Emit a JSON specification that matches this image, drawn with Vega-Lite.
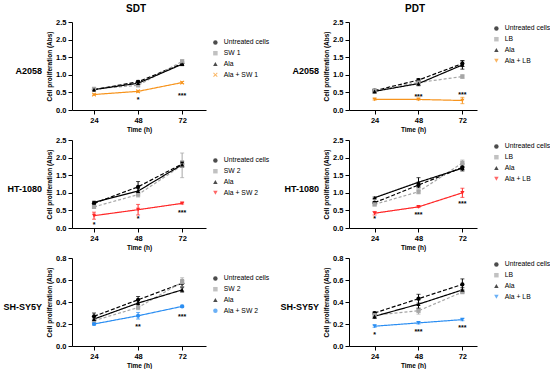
{
"$schema":"https://vega.github.io/schema/vega-lite/v6.json",
"padding":{"left":2,"top":4,"right":0,"bottom":0},
"datasets":{
"d":[
{"p":"a1","s":"Untreated cells","t":24,"m":0.58,"e":0.02},{"p":"a1","s":"Untreated cells","t":48,"m":0.80,"e":0.04},{"p":"a1","s":"Untreated cells","t":72,"m":1.32,"e":0.05},
{"p":"a1","s":"SW 1","t":24,"m":0.60,"e":0.02},{"p":"a1","s":"SW 1","t":48,"m":0.70,"e":0.03},{"p":"a1","s":"SW 1","t":72,"m":1.38,"e":0.05},
{"p":"a1","s":"Ala","t":24,"m":0.58,"e":0.02},{"p":"a1","s":"Ala","t":48,"m":0.76,"e":0.04},{"p":"a1","s":"Ala","t":72,"m":1.30,"e":0.04},
{"p":"a1","s":"Ala + SW 1","t":24,"m":0.44,"e":0.02},{"p":"a1","s":"Ala + SW 1","t":48,"m":0.53,"e":0.03},{"p":"a1","s":"Ala + SW 1","t":72,"m":0.78,"e":0.03},
{"p":"a2","s":"Untreated cells","t":24,"m":0.55,"e":0.04},{"p":"a2","s":"Untreated cells","t":48,"m":0.85,"e":0.04},{"p":"a2","s":"Untreated cells","t":72,"m":1.32,"e":0.08},
{"p":"a2","s":"LB","t":24,"m":0.55,"e":0.03},{"p":"a2","s":"LB","t":48,"m":0.78,"e":0.03},{"p":"a2","s":"LB","t":72,"m":0.95,"e":0.05},
{"p":"a2","s":"Ala","t":24,"m":0.53,"e":0.05},{"p":"a2","s":"Ala","t":48,"m":0.75,"e":0.06},{"p":"a2","s":"Ala","t":72,"m":1.28,"e":0.12},
{"p":"a2","s":"Ala + LB","t":24,"m":0.30,"e":0.02},{"p":"a2","s":"Ala + LB","t":48,"m":0.30,"e":0.02},{"p":"a2","s":"Ala + LB","t":72,"m":0.27,"e":0.09},
{"p":"h1","s":"Untreated cells","t":24,"m":0.70,"e":0.04},{"p":"h1","s":"Untreated cells","t":48,"m":1.17,"e":0.15},{"p":"h1","s":"Untreated cells","t":72,"m":1.82,"e":0.08},
{"p":"h1","s":"SW 2","t":24,"m":0.60,"e":0.03},{"p":"h1","s":"SW 2","t":48,"m":0.95,"e":0.07},{"p":"h1","s":"SW 2","t":72,"m":1.78,"e":0.35},
{"p":"h1","s":"Ala","t":24,"m":0.73,"e":0.03},{"p":"h1","s":"Ala","t":48,"m":1.05,"e":0.08},{"p":"h1","s":"Ala","t":72,"m":1.80,"e":0.07},
{"p":"h1","s":"Ala + SW 2","t":24,"m":0.35,"e":0.10},{"p":"h1","s":"Ala + SW 2","t":48,"m":0.52,"e":0.15},{"p":"h1","s":"Ala + SW 2","t":72,"m":0.70,"e":0.02},
{"p":"h2","s":"Untreated cells","t":24,"m":0.72,"e":0.03},{"p":"h2","s":"Untreated cells","t":48,"m":1.22,"e":0.08},{"p":"h2","s":"Untreated cells","t":72,"m":1.72,"e":0.10},
{"p":"h2","s":"LB","t":24,"m":0.67,"e":0.04},{"p":"h2","s":"LB","t":48,"m":1.03,"e":0.06},{"p":"h2","s":"LB","t":72,"m":1.85,"e":0.08},
{"p":"h2","s":"Ala","t":24,"m":0.86,"e":0.02},{"p":"h2","s":"Ala","t":48,"m":1.30,"e":0.13},{"p":"h2","s":"Ala","t":72,"m":1.70,"e":0.05},
{"p":"h2","s":"Ala + LB","t":24,"m":0.42,"e":0.05},{"p":"h2","s":"Ala + LB","t":48,"m":0.60,"e":0.02},{"p":"h2","s":"Ala + LB","t":72,"m":1.00,"e":0.13},
{"p":"s1","s":"Untreated cells","t":24,"m":0.27,"e":0.03},{"p":"s1","s":"Untreated cells","t":48,"m":0.42,"e":0.03},{"p":"s1","s":"Untreated cells","t":72,"m":0.57,"e":0.03},
{"p":"s1","s":"SW 2","t":24,"m":0.23,"e":0.02},{"p":"s1","s":"SW 2","t":48,"m":0.35,"e":0.02},{"p":"s1","s":"SW 2","t":72,"m":0.58,"e":0.04},
{"p":"s1","s":"Ala","t":24,"m":0.245,"e":0.02},{"p":"s1","s":"Ala","t":48,"m":0.39,"e":0.03},{"p":"s1","s":"Ala","t":72,"m":0.51,"e":0.02},
{"p":"s1","s":"Ala + SW 2","t":24,"m":0.20,"e":0.01},{"p":"s1","s":"Ala + SW 2","t":48,"m":0.275,"e":0.03},{"p":"s1","s":"Ala + SW 2","t":72,"m":0.36,"e":0.01},
{"p":"s2","s":"Untreated cells","t":24,"m":0.30,"e":0.01},{"p":"s2","s":"Untreated cells","t":48,"m":0.43,"e":0.04},{"p":"s2","s":"Untreated cells","t":72,"m":0.56,"e":0.05},
{"p":"s2","s":"LB","t":24,"m":0.28,"e":0.02},{"p":"s2","s":"LB","t":48,"m":0.32,"e":0.03},{"p":"s2","s":"LB","t":72,"m":0.49,"e":0.01},
{"p":"s2","s":"Ala","t":24,"m":0.27,"e":0.02},{"p":"s2","s":"Ala","t":48,"m":0.38,"e":0.04},{"p":"s2","s":"Ala","t":72,"m":0.51,"e":0.02},
{"p":"s2","s":"Ala + LB","t":24,"m":0.18,"e":0.01},{"p":"s2","s":"Ala + LB","t":48,"m":0.21,"e":0.01},{"p":"s2","s":"Ala + LB","t":72,"m":0.24,"e":0.01}
],
"st":[
{"p":"a1","t":48,"m":0.33,"l":"*"},{"p":"a1","t":72,"m":0.45,"l":"***"},
{"p":"a2","t":48,"m":0.42,"l":"***"},{"p":"a2","t":72,"m":0.48,"l":"***"},
{"p":"h1","t":24,"m":0.13,"l":"*"},{"p":"h1","t":48,"m":0.31,"l":"*"},{"p":"h1","t":72,"m":0.48,"l":"***"},
{"p":"h2","t":24,"m":0.30,"l":"*"},{"p":"h2","t":48,"m":0.44,"l":"***"},{"p":"h2","t":72,"m":0.75,"l":"***"},
{"p":"s1","t":48,"m":0.19,"l":"**"},{"p":"s1","t":72,"m":0.28,"l":"***"},
{"p":"s2","t":24,"m":0.12,"l":"*"},{"p":"s2","t":48,"m":0.15,"l":"***"},{"p":"s2","t":72,"m":0.18,"l":"***"}
]
},
"config":{
"font":"Liberation Sans",
"view":{"stroke":null},
"axis":{"grid":false,"domainColor":"#000","tickColor":"#000","labelColor":"#000","titleColor":"#000","labelFontSize":7.5,"labelFontWeight":"bold","titleFontSize":6.5,"titleFontWeight":"bold","tickSize":4,"labelPadding":2,"titlePadding":3,"domainWidth":1,"tickWidth":1},
"legend":{"labelFontSize":6.8,"labelColor":"#000","rowPadding":2.8,"symbolSize":20,"labelOffset":5,"padding":0,"symbolStrokeWidth":0},
"errorbar":{"ticks":{"size":4}}
},
"resolve":{"scale":{"color":"independent","shape":"independent","strokeDash":"independent","x":"independent","y":"independent"}},
"spacing":9,
"hconcat":[
{"title":{"text":"SDT","fontSize":10,"fontWeight":"bold","anchor":"middle","offset":4,"color":"#000"},
 "spacing":4,
 "resolve":{"scale":{"color":"independent","shape":"independent","strokeDash":"independent","x":"independent","y":"independent"}},
 "hconcat":[
 {"spacing":20,
  "resolve":{"scale":{"x":"independent","y":"independent"}},
  "vconcat":[
  {"width":40,"height":98,"data":{"values":[{"r":"A2058"}]},"mark":{"type":"text","align":"right","baseline":"middle","fontSize":9,"fontWeight":"bold","color":"#000"},"encoding":{"text":{"field":"r"},"x":{"datum":1,"type":"quantitative","scale":{"domain":[0,1]},"axis":null}}},
  {"width":40,"height":98,"data":{"values":[{"r":"HT-1080"}]},"mark":{"type":"text","align":"right","baseline":"middle","fontSize":9,"fontWeight":"bold","color":"#000"},"encoding":{"text":{"field":"r"},"x":{"datum":1,"type":"quantitative","scale":{"domain":[0,1]},"axis":null}}},
  {"width":40,"height":98,"data":{"values":[{"r":"SH-SY5Y"}]},"mark":{"type":"text","align":"right","baseline":"middle","fontSize":9,"fontWeight":"bold","color":"#000"},"encoding":{"text":{"field":"r"},"x":{"datum":1,"type":"quantitative","scale":{"domain":[0,1]},"axis":null}}}
  ]
 },
 {"spacing":3,
  "resolve":{"scale":{"color":"independent","shape":"independent","strokeDash":"independent","x":"independent","y":"independent"}},
  "vconcat":[
  {"width":134,"height":88,
   "encoding":{
    "x":{"field":"t","type":"quantitative","scale":{"domain":[12,85],"nice":false,"zero":false},"axis":{"values":[24,48,72],"title":"Time (h)"}},
    "y":{"field":"m","type":"quantitative","scale":{"domain":[0,2.5],"nice":false},"axis":{"values":[0,0.5,1,1.5,2,2.5],"format":".1f","title":"Cell proliferation (Abs)"}},
    "color":{"field":"s","type":"nominal","scale":{"domain":["Untreated cells","SW 1","Ala","Ala + SW 1"],"range":["#000000","#a6a6a6","#000000","#f7941d"]},"legend":{"orient":"none","legendX":140,"legendY":17,"title":null}}
   },
   "layer":[
    {"data":{"name":"d"},"transform":[{"filter":"datum.p==='a1'"}],"mark":{"type":"errorbar","ticks":true},"encoding":{"yError":{"field":"e"}}},
    {"data":{"name":"d"},"transform":[{"filter":"datum.p==='a1'"}],"mark":{"type":"line","strokeWidth":1.2},"encoding":{"strokeDash":{"field":"s","type":"nominal","scale":{"domain":["Untreated cells","SW 1","Ala","Ala + SW 1"],"range":[[4,2],[3,2],[1,0],[1,0]]},"legend":null}}},
    {"data":{"name":"d"},"transform":[{"filter":"datum.p==='a1'"}],"mark":{"type":"point","filled":true,"size":18,"opacity":1},"encoding":{"shape":{"field":"s","type":"nominal","scale":{"domain":["Untreated cells","SW 1","Ala","Ala + SW 1"],"range":["circle","square","triangle-up","M-1,-0.7L-0.7,-1L0,-0.3L0.7,-1L1,-0.7L0.3,0L1,0.7L0.7,1L0,0.3L-0.7,1L-1,0.7L-0.3,0Z"]},"legend":null}}},
    {"data":{"name":"st"},"transform":[{"filter":"datum.p==='a1'"}],"mark":{"type":"text","fontSize":7,"fontWeight":"bold","baseline":"middle","dy":2},"encoding":{"text":{"field":"l"},"color":{"value":"#000"}}}
   ]
  },
  {"width":134,"height":88,
   "encoding":{
    "x":{"field":"t","type":"quantitative","scale":{"domain":[12,85],"nice":false,"zero":false},"axis":{"values":[24,48,72],"title":"Time (h)"}},
    "y":{"field":"m","type":"quantitative","scale":{"domain":[0,2.5],"nice":false},"axis":{"values":[0,0.5,1,1.5,2,2.5],"format":".1f","title":"Cell proliferation (Abs)"}},
    "color":{"field":"s","type":"nominal","scale":{"domain":["Untreated cells","SW 2","Ala","Ala + SW 2"],"range":["#000000","#a6a6a6","#000000","#ff2626"]},"legend":{"orient":"none","legendX":140,"legendY":17,"title":null}}
   },
   "layer":[
    {"data":{"name":"d"},"transform":[{"filter":"datum.p==='h1'"}],"mark":{"type":"errorbar","ticks":true},"encoding":{"yError":{"field":"e"}}},
    {"data":{"name":"d"},"transform":[{"filter":"datum.p==='h1'"}],"mark":{"type":"line","strokeWidth":1.2},"encoding":{"strokeDash":{"field":"s","type":"nominal","scale":{"domain":["Untreated cells","SW 2","Ala","Ala + SW 2"],"range":[[4,2],[3,2],[1,0],[1,0]]},"legend":null}}},
    {"data":{"name":"d"},"transform":[{"filter":"datum.p==='h1'"}],"mark":{"type":"point","filled":true,"size":18,"opacity":1},"encoding":{"shape":{"field":"s","type":"nominal","scale":{"domain":["Untreated cells","SW 2","Ala","Ala + SW 2"],"range":["circle","square","triangle-up","triangle-down"]},"legend":null}}},
    {"data":{"name":"st"},"transform":[{"filter":"datum.p==='h1'"}],"mark":{"type":"text","fontSize":7,"fontWeight":"bold","baseline":"middle","dy":2},"encoding":{"text":{"field":"l"},"color":{"value":"#000"}}}
   ]
  },
  {"width":134,"height":88,
   "encoding":{
    "x":{"field":"t","type":"quantitative","scale":{"domain":[12,85],"nice":false,"zero":false},"axis":{"values":[24,48,72],"title":"Time (h)"}},
    "y":{"field":"m","type":"quantitative","scale":{"domain":[0,0.8],"nice":false},"axis":{"values":[0,0.2,0.4,0.6,0.8],"format":".1f","title":"Cell proliferation (Abs)"}},
    "color":{"field":"s","type":"nominal","scale":{"domain":["Untreated cells","SW 2","Ala","Ala + SW 2"],"range":["#000000","#a6a6a6","#000000","#2b8ef2"]},"legend":{"orient":"none","legendX":140,"legendY":17,"title":null}}
   },
   "layer":[
    {"data":{"name":"d"},"transform":[{"filter":"datum.p==='s1'"}],"mark":{"type":"errorbar","ticks":true},"encoding":{"yError":{"field":"e"}}},
    {"data":{"name":"d"},"transform":[{"filter":"datum.p==='s1'"}],"mark":{"type":"line","strokeWidth":1.2},"encoding":{"strokeDash":{"field":"s","type":"nominal","scale":{"domain":["Untreated cells","SW 2","Ala","Ala + SW 2"],"range":[[4,2],[3,2],[1,0],[1,0]]},"legend":null}}},
    {"data":{"name":"d"},"transform":[{"filter":"datum.p==='s1'"}],"mark":{"type":"point","filled":true,"size":18,"opacity":1},"encoding":{"shape":{"field":"s","type":"nominal","scale":{"domain":["Untreated cells","SW 2","Ala","Ala + SW 2"],"range":["circle","square","triangle-up","circle"]},"legend":null}}},
    {"data":{"name":"st"},"transform":[{"filter":"datum.p==='s1'"}],"mark":{"type":"text","fontSize":7,"fontWeight":"bold","baseline":"middle","dy":2},"encoding":{"text":{"field":"l"},"color":{"value":"#000"}}}
   ]
  }
  ]
 }
 ]
},
{"title":{"text":"PDT","fontSize":10,"fontWeight":"bold","anchor":"middle","offset":4,"color":"#000"},
 "spacing":4,
 "resolve":{"scale":{"color":"independent","shape":"independent","strokeDash":"independent","x":"independent","y":"independent"}},
 "hconcat":[
 {"spacing":20,
  "resolve":{"scale":{"x":"independent","y":"independent"}},
  "vconcat":[
  {"width":40,"height":98,"data":{"values":[{"r":"A2058"}]},"mark":{"type":"text","align":"right","baseline":"middle","fontSize":9,"fontWeight":"bold","color":"#000"},"encoding":{"text":{"field":"r"},"x":{"datum":1,"type":"quantitative","scale":{"domain":[0,1]},"axis":null}}},
  {"width":40,"height":98,"data":{"values":[{"r":"HT-1080"}]},"mark":{"type":"text","align":"right","baseline":"middle","fontSize":9,"fontWeight":"bold","color":"#000"},"encoding":{"text":{"field":"r"},"x":{"datum":1,"type":"quantitative","scale":{"domain":[0,1]},"axis":null}}},
  {"width":40,"height":98,"data":{"values":[{"r":"SH-SY5Y"}]},"mark":{"type":"text","align":"right","baseline":"middle","fontSize":9,"fontWeight":"bold","color":"#000"},"encoding":{"text":{"field":"r"},"x":{"datum":1,"type":"quantitative","scale":{"domain":[0,1]},"axis":null}}}
  ]
 },
 {"spacing":3,
  "resolve":{"scale":{"color":"independent","shape":"independent","strokeDash":"independent","x":"independent","y":"independent"}},
  "vconcat":[
  {"width":128,"height":88,
   "encoding":{
    "x":{"field":"t","type":"quantitative","scale":{"domain":[10,80],"nice":false,"zero":false},"axis":{"values":[24,48,72],"title":"Time (h)"}},
    "y":{"field":"m","type":"quantitative","scale":{"domain":[0,2.5],"nice":false},"axis":{"values":[0,0.5,1,1.5,2,2.5],"format":".1f","title":"Cell proliferation (Abs)"}},
    "color":{"field":"s","type":"nominal","scale":{"domain":["Untreated cells","LB","Ala","Ala + LB"],"range":["#000000","#a6a6a6","#000000","#f7941d"]},"legend":{"orient":"none","legendX":144,"legendY":3,"title":null}}
   },
   "layer":[
    {"data":{"name":"d"},"transform":[{"filter":"datum.p==='a2'"}],"mark":{"type":"errorbar","ticks":true},"encoding":{"yError":{"field":"e"}}},
    {"data":{"name":"d"},"transform":[{"filter":"datum.p==='a2'"}],"mark":{"type":"line","strokeWidth":1.2},"encoding":{"strokeDash":{"field":"s","type":"nominal","scale":{"domain":["Untreated cells","LB","Ala","Ala + LB"],"range":[[4,2],[3,2],[1,0],[1,0]]},"legend":null}}},
    {"data":{"name":"d"},"transform":[{"filter":"datum.p==='a2'"}],"mark":{"type":"point","filled":true,"size":18,"opacity":1},"encoding":{"shape":{"field":"s","type":"nominal","scale":{"domain":["Untreated cells","LB","Ala","Ala + LB"],"range":["circle","square","triangle-up","triangle-down"]},"legend":null}}},
    {"data":{"name":"st"},"transform":[{"filter":"datum.p==='a2'"}],"mark":{"type":"text","fontSize":7,"fontWeight":"bold","baseline":"middle","dy":2},"encoding":{"text":{"field":"l"},"color":{"value":"#000"}}}
   ]
  },
  {"width":128,"height":88,
   "encoding":{
    "x":{"field":"t","type":"quantitative","scale":{"domain":[10,80],"nice":false,"zero":false},"axis":{"values":[24,48,72],"title":"Time (h)"}},
    "y":{"field":"m","type":"quantitative","scale":{"domain":[0,2.5],"nice":false},"axis":{"values":[0,0.5,1,1.5,2,2.5],"format":".1f","title":"Cell proliferation (Abs)"}},
    "color":{"field":"s","type":"nominal","scale":{"domain":["Untreated cells","LB","Ala","Ala + LB"],"range":["#000000","#a6a6a6","#000000","#ff2626"]},"legend":{"orient":"none","legendX":144,"legendY":3,"title":null}}
   },
   "layer":[
    {"data":{"name":"d"},"transform":[{"filter":"datum.p==='h2'"}],"mark":{"type":"errorbar","ticks":true},"encoding":{"yError":{"field":"e"}}},
    {"data":{"name":"d"},"transform":[{"filter":"datum.p==='h2'"}],"mark":{"type":"line","strokeWidth":1.2},"encoding":{"strokeDash":{"field":"s","type":"nominal","scale":{"domain":["Untreated cells","LB","Ala","Ala + LB"],"range":[[4,2],[3,2],[1,0],[1,0]]},"legend":null}}},
    {"data":{"name":"d"},"transform":[{"filter":"datum.p==='h2'"}],"mark":{"type":"point","filled":true,"size":18,"opacity":1},"encoding":{"shape":{"field":"s","type":"nominal","scale":{"domain":["Untreated cells","LB","Ala","Ala + LB"],"range":["circle","square","triangle-up","triangle-down"]},"legend":null}}},
    {"data":{"name":"st"},"transform":[{"filter":"datum.p==='h2'"}],"mark":{"type":"text","fontSize":7,"fontWeight":"bold","baseline":"middle","dy":2},"encoding":{"text":{"field":"l"},"color":{"value":"#000"}}}
   ]
  },
  {"width":128,"height":88,
   "encoding":{
    "x":{"field":"t","type":"quantitative","scale":{"domain":[10,80],"nice":false,"zero":false},"axis":{"values":[24,48,72],"title":"Time (h)"}},
    "y":{"field":"m","type":"quantitative","scale":{"domain":[0,0.8],"nice":false},"axis":{"values":[0,0.2,0.4,0.6,0.8],"format":".1f","title":"Cell proliferation (Abs)"}},
    "color":{"field":"s","type":"nominal","scale":{"domain":["Untreated cells","LB","Ala","Ala + LB"],"range":["#000000","#a6a6a6","#000000","#2b8ef2"]},"legend":{"orient":"none","legendX":144,"legendY":3,"title":null}}
   },
   "layer":[
    {"data":{"name":"d"},"transform":[{"filter":"datum.p==='s2'"}],"mark":{"type":"errorbar","ticks":true},"encoding":{"yError":{"field":"e"}}},
    {"data":{"name":"d"},"transform":[{"filter":"datum.p==='s2'"}],"mark":{"type":"line","strokeWidth":1.2},"encoding":{"strokeDash":{"field":"s","type":"nominal","scale":{"domain":["Untreated cells","LB","Ala","Ala + LB"],"range":[[4,2],[3,2],[1,0],[1,0]]},"legend":null}}},
    {"data":{"name":"d"},"transform":[{"filter":"datum.p==='s2'"}],"mark":{"type":"point","filled":true,"size":18,"opacity":1},"encoding":{"shape":{"field":"s","type":"nominal","scale":{"domain":["Untreated cells","LB","Ala","Ala + LB"],"range":["circle","square","triangle-up","triangle-down"]},"legend":null}}},
    {"data":{"name":"st"},"transform":[{"filter":"datum.p==='s2'"}],"mark":{"type":"text","fontSize":7,"fontWeight":"bold","baseline":"middle","dy":2},"encoding":{"text":{"field":"l"},"color":{"value":"#000"}}}
   ]
  }
  ]
 }
 ]
}
]
}
